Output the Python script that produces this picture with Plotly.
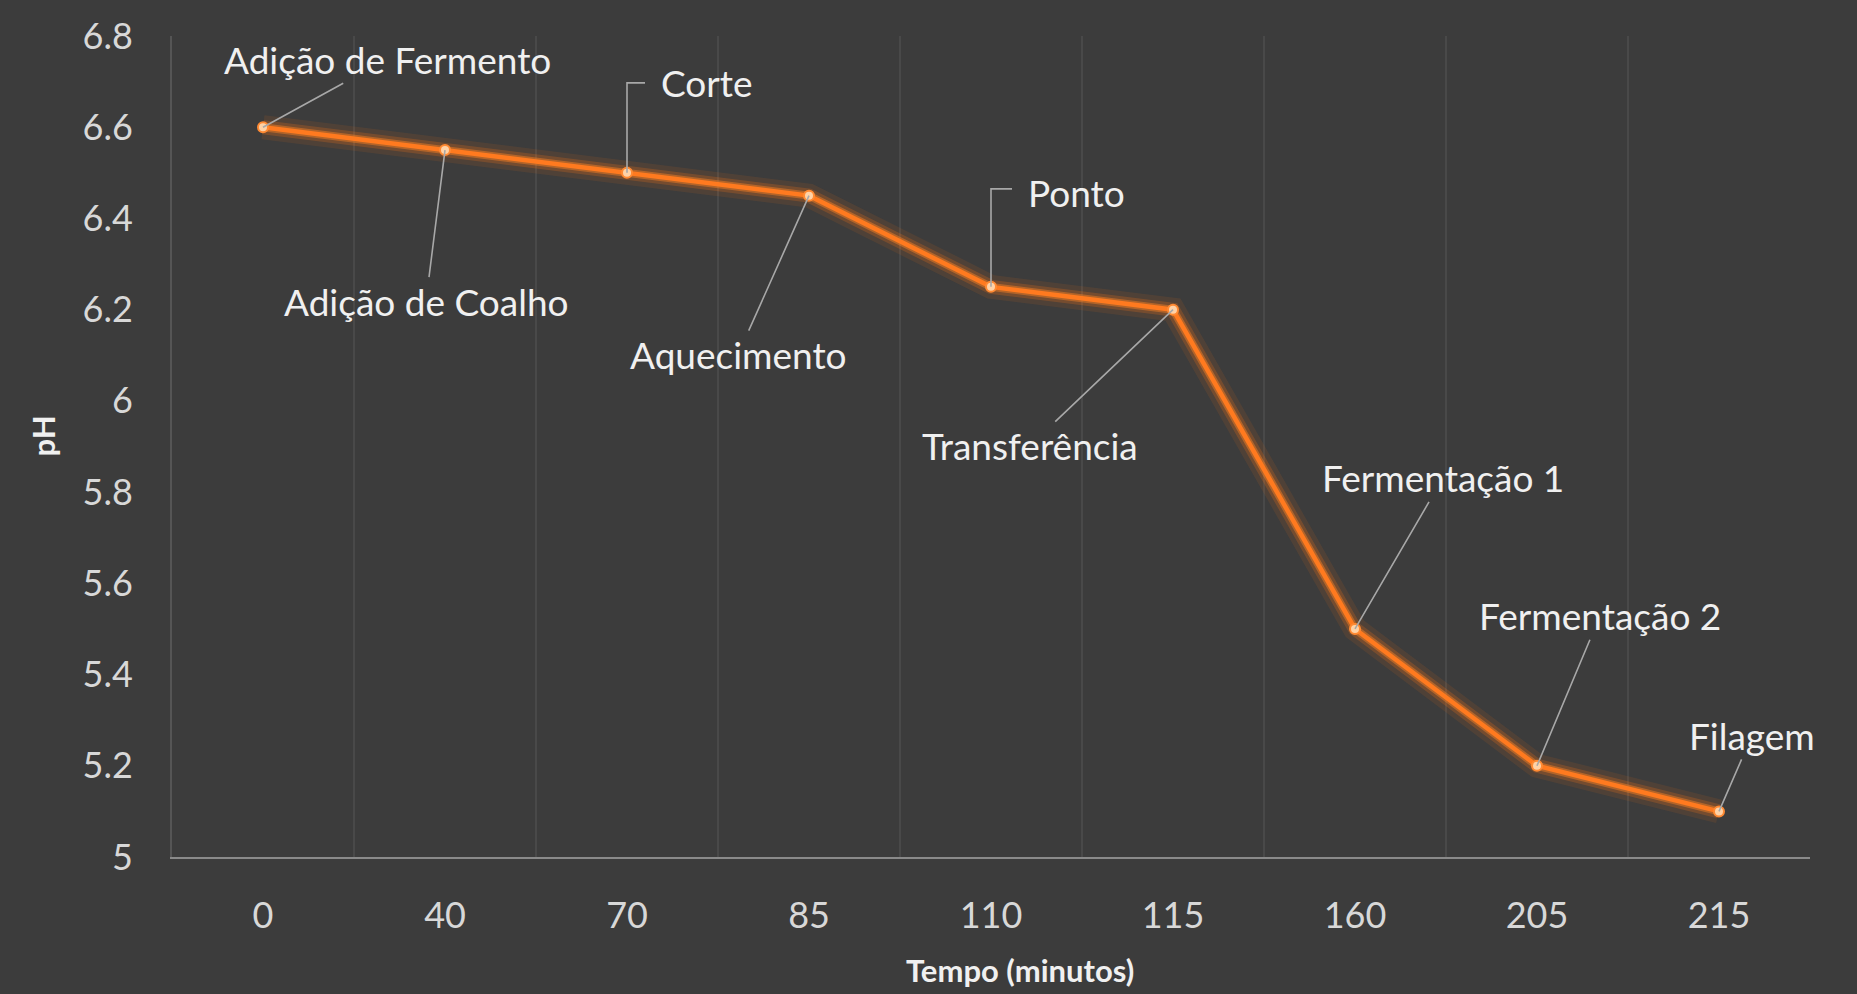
import plotly.graph_objects as go

# Tempo (min) e pH medidos em cada etapa
tempo = ["0", "40", "70", "85", "110", "115", "160", "205", "215"]
ph = [6.6, 6.55, 6.5, 6.45, 6.25, 6.2, 5.5, 5.2, 5.1]
etapas = ["Adição de Fermento", "Adição de Coalho", "Corte", "Aquecimento",
          "Ponto", "Transferência", "Fermentação 1", "Fermentação 2", "Filagem"]

# deslocamento (px) de cada rótulo em relação ao seu ponto
label_dx = [124, -19, 80, -71, 85, -143, 88, 63, 33]
label_dy = [-68, 151, -90, 159, -94, 136, -151, -150, -76]
# rótulos ligados por conector em cotovelo (subida, avanço) em px
elbow = {2: (90, 18), 4: (98, 21)}

FONT = "Lato, Carlito, Calibri, sans-serif"
BG = "#3c3c3c"
TXT = "#f0f0f0"
LEADER = "#a8a8a8"

fig = go.Figure()

# brilho em volta da linha
for w, c in [(24, "rgba(255,115,20,0.10)"), (14, "rgba(255,120,25,0.22)"),
             (8, "rgba(255,130,35,0.45)")]:
    fig.add_trace(go.Scatter(x=tempo, y=ph, mode="lines",
                             line=dict(color=c, width=w), hoverinfo="skip",
                             showlegend=False))
fig.add_trace(go.Scatter(
    x=tempo, y=ph, mode="lines+markers",
    line=dict(color="#ff7a1f", width=4.5),
    marker=dict(size=10, color="#ffd2a6", line=dict(color="#ff8a33", width=2)),
    showlegend=False))

annotations = []
shapes = []
for i, (v, name) in enumerate(zip(ph, etapas)):
    # em eixo de categorias a posição é o índice da categoria
    font = dict(family=FONT, size=37, color=TXT)
    if i in elbow:
        up, right = elbow[i]
        shapes.append(dict(type="path", xref="x", yref="y",
                           xsizemode="pixel", ysizemode="pixel",
                           xanchor=i, yanchor=v,
                           path=f"M0,0 L0,{up} L{right},{up}",
                           line=dict(color=LEADER, width=1.6)))
        annotations.append(dict(x=i, y=v, xref="x", yref="y", text=name,
                                showarrow=False, xshift=label_dx[i],
                                yshift=-label_dy[i], xanchor="center",
                                yanchor="middle", font=font))
    else:
        annotations.append(dict(x=i, y=v, xref="x", yref="y", text=name,
                                showarrow=True, arrowhead=0, arrowwidth=1.6,
                                arrowcolor=LEADER, ax=label_dx[i], ay=label_dy[i],
                                xanchor="center", yanchor="middle", font=font))

# títulos dos eixos
annotations.append(dict(text="<b>Tempo (minutos)</b>", xref="paper", yref="paper",
                        x=0.518, y=-0.138, showarrow=False,
                        xanchor="center", yanchor="middle",
                        font=dict(family=FONT, size=31, color=TXT)))
annotations.append(dict(text="<b>pH</b>", xref="paper", yref="paper",
                        x=-0.079, y=0.513, showarrow=False, textangle=-90,
                        xanchor="center", yanchor="middle",
                        font=dict(family=FONT, size=31, color=TXT)))

fig.update_layout(
    width=1857, height=994,
    margin=dict(l=172, r=47, t=36, b=137),
    paper_bgcolor=BG, plot_bgcolor=BG,
    annotations=annotations, shapes=shapes,
    xaxis=dict(type="category", tickson="boundaries", showgrid=True,
               gridcolor="rgba(255,255,255,0.07)", gridwidth=2,
               showline=True, linecolor="#8a8a8a", linewidth=2,
               ticks="", ticklabelstandoff=26,
               tickfont=dict(family=FONT, size=36, color="#d8d8d8"),
               range=[-0.5, 8.5], zeroline=False),
    yaxis=dict(range=[5, 6.8], dtick=0.2, tickformat="~g", showgrid=False,
               showline=True, linecolor="#555555", linewidth=2,
               ticks="", ticklabelstandoff=30,
               tickfont=dict(family=FONT, size=36, color="#d8d8d8"),
               zeroline=False),
)

fig.write_html("out.html")
